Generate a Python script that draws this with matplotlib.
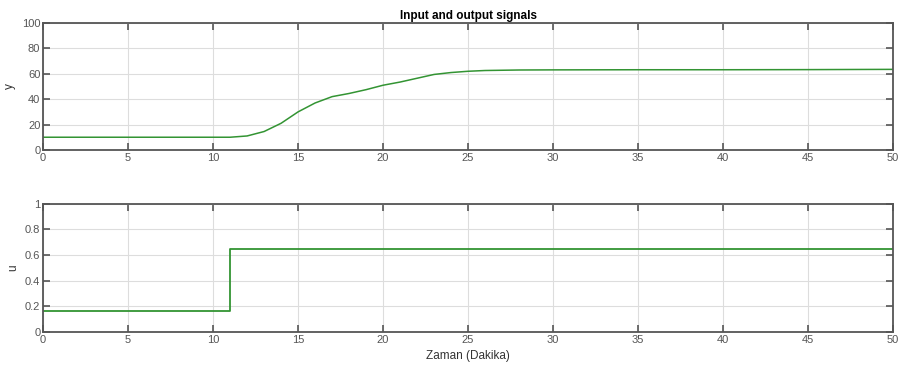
import numpy as np
import matplotlib.pyplot as plt

plt.rcParams['font.family'] = ['Liberation Sans', 'DejaVu Sans']

# data
t_y = [0, 5, 10, 11, 12, 13, 14, 15, 16, 17, 18, 19, 20, 21, 22, 23, 24, 25, 26, 27, 28, 30, 35, 40, 45, 50]
y = [10, 10, 10, 10, 11, 14.5, 21, 30, 37, 42, 44.5, 47.5, 51, 53.5, 56.5, 59.5, 61, 62, 62.6, 62.8, 63, 63.1, 63.2, 63.2, 63.3, 63.5]

t_u = [0, 11, 11, 50]
u = [0.16, 0.16, 0.65, 0.65]

col = '#339433'
frame = '#555555'

fig = plt.figure(figsize=(8.98, 3.72), dpi=100)
ax1 = fig.add_axes([0.048, 0.597, 0.9465, 0.341])
ax2 = fig.add_axes([0.048, 0.108, 0.9465, 0.344])

ax1.plot(t_y, y, color=col, lw=1.1)
ax2.plot(t_u, u, color=col, lw=1.3)

for ax in (ax1, ax2):
    ax.set_xlim(0, 50)
    ax.set_xticks(np.arange(0, 51, 5))
    ax.grid(True, color='#dddddd', lw=0.8)
    ax.tick_params(direction='in', top=True, right=True, labelsize=8,
                   colors='#555555', length=5, width=1.2, pad=2)
    for s in ax.spines.values():
        s.set_color(frame)
        s.set_linewidth(1.3)

ax1.set_ylim(0, 100)
ax1.set_yticks(np.arange(0, 101, 20))
ax1.set_ylabel('y', fontsize=8.5, color='#333333')
ax1.set_title('Input and output signals', fontsize=8.5, fontweight='bold', pad=3)

ax2.set_ylim(0, 1)
ax2.set_yticks(np.arange(0, 1.01, 0.2))
ax2.set_yticklabels(['0', '0.2', '0.4', '0.6', '0.8', '1'])
ax2.set_ylabel('u', fontsize=8.5, color='#333333')
ax2.set_xlabel('Zaman (Dakika)', fontsize=8.5, color='#333333', labelpad=4)

fig.savefig('out.png', dpi=100)
